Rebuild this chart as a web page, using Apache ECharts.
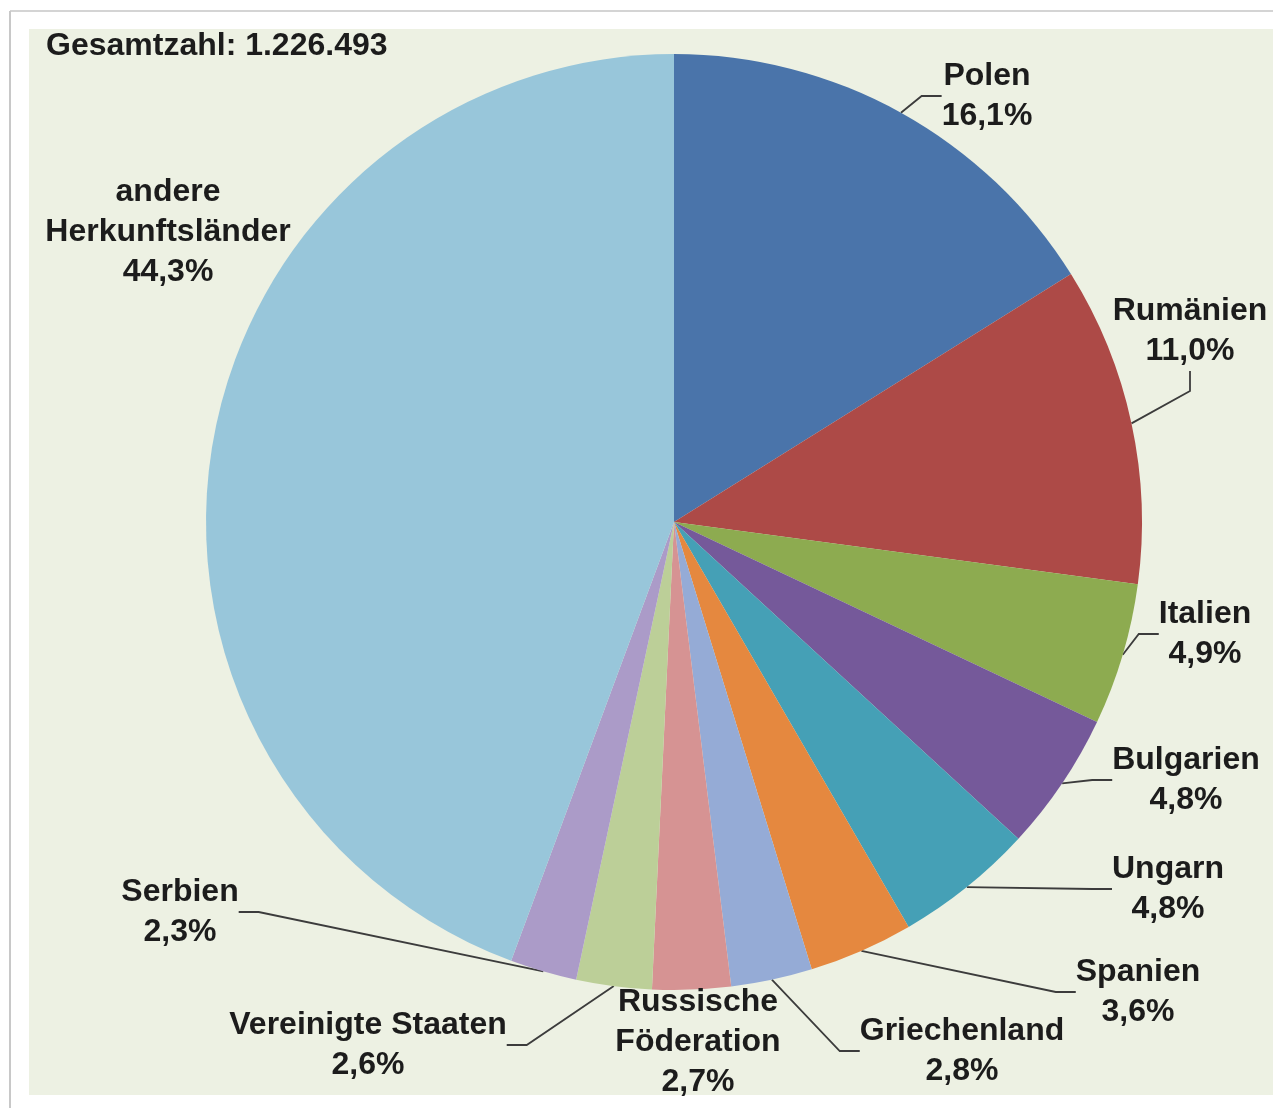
<!DOCTYPE html>
<html>
<head>
<meta charset="utf-8">
<script src="https://cdn.jsdelivr.net/npm/echarts@6/dist/echarts.min.js"></script>
<style>
  html, body { margin: 0; padding: 0; background: #ffffff; }
  #chart { width: 1273px; height: 1108px; }
</style>
</head>
<body>
<div id="chart"></div>
<script>
// Herkunftsländer, im Uhrzeigersinn ab 12 Uhr
const countries = [
  'Polen', 'Rumänien', 'Italien', 'Bulgarien', 'Ungarn', 'Spanien',
  'Griechenland', 'Russische\nFöderation', 'Vereinigte Staaten', 'Serbien',
  'andere\nHerkunftsländer'
];
// Anteile in Prozent
const shares = [16.1, 11.0, 4.9, 4.8, 4.8, 3.6, 2.8, 2.7, 2.6, 2.3, 44.3];
const totalLabel = 'Gesamtzahl: 1.226.493';

const sliceColors = [
  '#4a74aa', '#ad4a47', '#8dab50', '#75599a', '#45a0b6', '#e5883f',
  '#95abd6', '#d69393', '#bccf98', '#ab9bc8', '#98c6da'
];

// Mittelpunkt der Beschriftungen (Layout)
const labelSpots = [
  [987, 96], [1190, 331], [1205, 634], [1186, 780], [1168, 889], [1138, 992],
  [962, 1051], [698, 1042], [368, 1045], [180, 912], [168, 232]
];

const fmt = v => v.toFixed(1).replace('.', ',') + '%';
const FONT = '"Liberation Sans", Arial, sans-serif';

const chart = echarts.init(document.getElementById('chart'), null, { renderer: 'canvas' });

chart.setOption({
  animation: false,
  backgroundColor: '#ffffff',
  graphic: [
    { type: 'rect', z: -10, shape: { x: 29, y: 29, width: 1244, height: 1066 }, style: { fill: '#edf1e3' } },
    { type: 'line', z: -10, shape: { x1: 10, y1: 11, x2: 1273, y2: 11 }, style: { stroke: '#d4d4d4', lineWidth: 2 } },
    { type: 'line', z: -10, shape: { x1: 10, y1: 11, x2: 10, y2: 1108 }, style: { stroke: '#c8c8c8', lineWidth: 2 } },
    {
      type: 'text', z: 10, left: 46, top: 30,
      style: { text: totalLabel, font: 'bold 32px ' + FONT, fill: '#1c1c1c' }
    }
  ],
  series: [{
    type: 'pie',
    center: [674, 522],
    radius: 468,
    startAngle: 90,
    clockwise: true,
    avoidLabelOverlap: false,
    itemStyle: { borderWidth: 0 },
    emphasis: { disabled: true },
    data: countries.map((name, i) => ({
      name: name,
      value: shares[i],
      itemStyle: { color: sliceColors[i] },
      labelLine: { show: !(i === 7 || i === 10) }
    })),
    label: {
      show: true,
      position: 'outside',
      formatter: p => p.name + '\n' + fmt(p.value),
      color: '#1c1c1c',
      fontFamily: FONT,
      fontWeight: 'bold',
      fontSize: 32,
      lineHeight: 40,
      align: 'center'
    },
    labelLine: {
      show: true,
      length: 20,
      length2: 20,
      lineStyle: { color: '#3c3c3c', width: 1.8 }
    },
    labelLayout: p => {
      const spot = labelSpots[p.dataIndex];
      return { x: spot[0], y: spot[1], align: 'center', verticalAlign: 'middle' };
    }
  }]
});
</script>
</body>
</html>
